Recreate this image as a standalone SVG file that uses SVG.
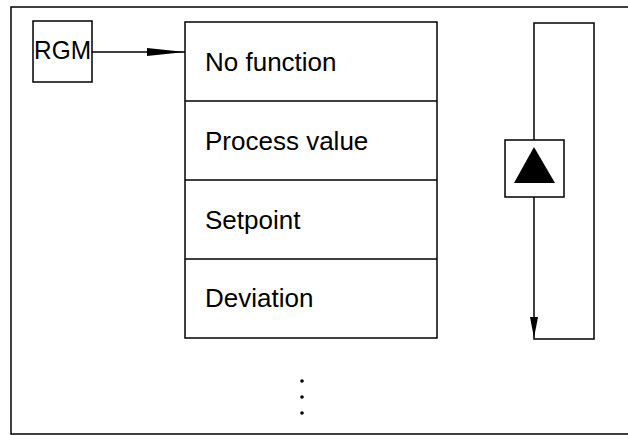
<svg xmlns="http://www.w3.org/2000/svg" width="628" height="435" viewBox="0 0 628 435">
<style>
.ln{fill:none;stroke:#000;stroke-width:1.5}
.bx{fill:#fff;stroke:#000;stroke-width:1.5}
.t{font-family:"Liberation Sans",Arial,sans-serif;font-size:26px;fill:#000}
</style>
<defs>
<marker id="ah" markerWidth="40" markerHeight="12" refX="38" refY="6" orient="auto" markerUnits="userSpaceOnUse">
<path d="M0,2 L38,6 L0,10 Z" fill="#000"/>
</marker>
</defs>
<rect width="628" height="435" fill="#fff"/>
<path class="ln" d="M628,7 H11 V434 H628"/>
<g id="connectors">
<line class="ln" x1="92" y1="52" x2="185" y2="52" marker-end="url(#ah)"/>
<path class="ln" d="M534,140 V23 H594 V339 H534 V197"/>
<path d="M534,338 L530,317 L538,317 Z" fill="#000"/>
</g>
<g id="rgm">
<rect class="bx" x="33" y="21" width="59" height="61"/>
<text class="t" x="34" y="59" font-size="24" textLength="57" lengthAdjust="spacingAndGlyphs">RGM</text>
</g>
<g id="list">
<rect class="bx" x="185" y="22" width="252" height="316"/>
<line class="ln" x1="185" y1="101" x2="437" y2="101"/>
<line class="ln" x1="185" y1="180" x2="437" y2="180"/>
<line class="ln" x1="185" y1="259" x2="437" y2="259"/>
<text class="t" x="205" y="71">No function</text>
<text class="t" x="205" y="150">Process value</text>
<text class="t" x="205" y="229">Setpoint</text>
<text class="t" x="205" y="307">Deviation</text>
</g>
<g id="up">
<rect class="bx" x="505" y="140" width="59" height="57"/>
<path d="M534,147 L555,183 L514,183 Z" fill="#000"/>
</g>
<g id="dots" fill="#000">
<circle cx="302" cy="381" r="1.8"/>
<circle cx="302" cy="397" r="1.8"/>
<circle cx="302" cy="413" r="1.8"/>
</g>
</svg>
